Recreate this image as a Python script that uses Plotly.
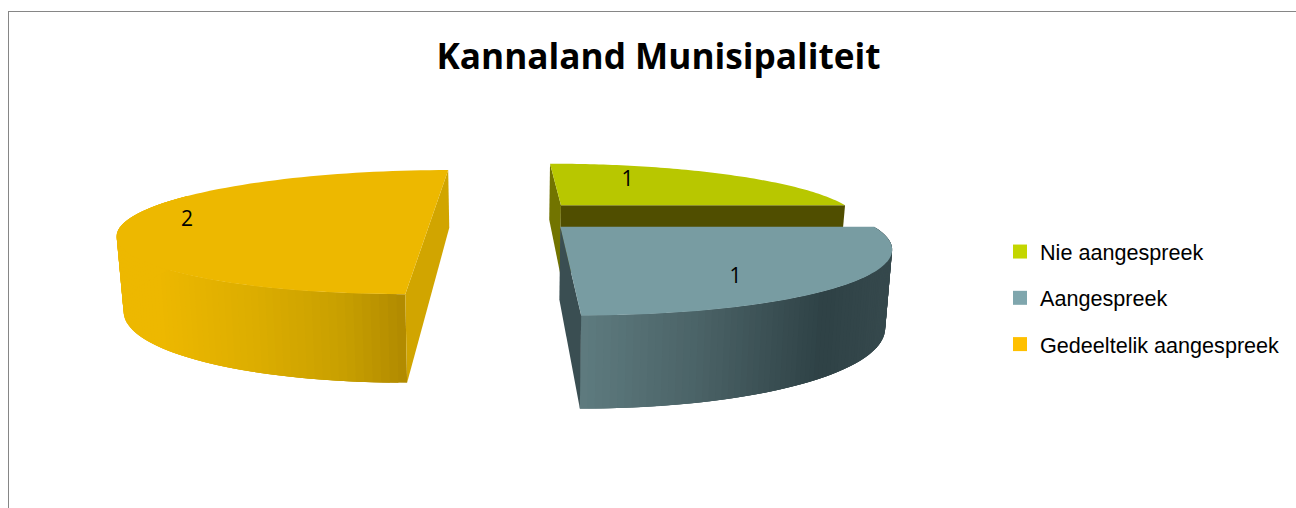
import math
import plotly.graph_objects as go

# ---- data ----
categories = ["Nie aangespreek", "Aangespreek", "Gedeeltelik aangespreek"]
values = [1, 1, 2]
title_text = "Kannaland Munisipaliteit"

# ---- styles ----
legend_colors = ["#c4d600", "#7fa6ad", "#ffc000"]
top_colors = ["#b8c700", "#789ca2", "#edb800"]
label_xy = [(627.5, 181), (735.5, 278), (187, 221)]
# how far each slice is pulled out, sideways and in depth
pull_x = [0.19, 0.17, 0.25]
pull_y = [0.185, 0.185, 0.0]

# projection of the pie plane to picture pixels
X0, CX, CY, K = 507.0, 1115.0, 806.0, 3.74
D_A, D_B = 333.0, 1.02
SHRINK = 0.982


def top(X, Y):
    w = Y + K
    return X0 + CX * X / w, CY / w


def bottom(X, Y):
    x, y = top(X, Y)
    return X0 + (x - X0) * SHRINK, y + D_A / (Y + K + D_B)


def hexrgb(c):
    return tuple(int(c[i:i + 2], 16) for i in (1, 3, 5))


def ramp(stops, x):
    if x <= stops[0][0]:
        return stops[0][1]
    for (a, ca), (b, cb) in zip(stops, stops[1:]):
        if x <= b:
            t = (x - a) / (b - a)
            A, B = hexrgb(ca), hexrgb(cb)
            return "rgb(%d,%d,%d)" % tuple(A[i] + (B[i] - A[i]) * t for i in range(3))
    return stops[-1][1]


fig = go.Figure()


def poly(pts, color):
    xs = [p[0] for p in pts] + [pts[0][0]]
    ys = [p[1] for p in pts] + [pts[0][1]]
    fig.add_trace(go.Scatter(x=xs, y=ys, mode="none", fill="toself", fillcolor=color,
                             showlegend=False, hoverinfo="skip"))


# angles from the values
total = sum(values)
spans = []
a = 0.0
for v in values:
    spans.append((a, a + 2 * math.pi * v / total))
    a += 2 * math.pi * v / total

wall_ramps = [
    None,
    [(580, "#5f7c80"), (700, "#4b6367"), (825, "#2f4246"), (890, "#36494d")],
    [(160, "#edb800"), (250, "#ddae00"), (340, "#c9a000"), (408, "#b08900")],
]
# cut faces: (which end of the slice, colour)
cut_faces = [
    [(0, "#727400"), (1, "#504e00")],
    [(1, "#3a4e52")],
    [],
]
wall_visible = [None, (0, 1), (0, 0.62)]

for i, (a0, a1) in enumerate(spans):
    mid = (a0 + a1) / 2
    ox = pull_x[i] * (1 if math.sin(mid) > 0 else -1)
    oy = pull_y[i] * (1 if math.cos(mid) > 0 else -1)

    def rim(t):
        return ox + math.sin(t), oy + math.cos(t)

    # outer wall: each strip runs on under the next one so no seams show
    if wall_visible[i]:
        f0, f1 = wall_visible[i]
        n = 90
        ts = [a0 + (a1 - a0) * (f0 + (f1 - f0) * j / n) for j in range(n + 1)]
        for j in range(n):
            t0, t1 = ts[j], ts[min(j + 3, n)]
            p0, p1 = rim(t0), rim(t1)
            pm = rim(ts[j + 1])
            col = ramp(wall_ramps[i], (top(*p0)[0] + top(*pm)[0]) / 2)
            poly([top(*p0), top(*p1), bottom(*p1), bottom(*p0)], col)
    # cut faces
    for end, col in cut_faces[i]:
        e = rim(a0 if end == 0 else a1)
        c = (ox, oy)
        poly([top(*c), top(*e), bottom(*e), bottom(*c)], col)
    if abs((a1 - a0) - math.pi) < 1e-9:
        # a half pie has one flat cut face
        e0, e1 = rim(a0), rim(a1)
        poly([top(*e0), top(*e1), bottom(*e1), bottom(*e0)], "#d1a500")
    # top face
    pts = [top(ox, oy)]
    m = 80
    for j in range(m + 1):
        pts.append(top(*rim(a0 + (a1 - a0) * j / m)))
    poly(pts, top_colors[i])

# value labels
fig.add_trace(go.Scatter(x=[p[0] for p in label_xy], y=[p[1] for p in label_xy], mode="text",
                         text=[str(v) for v in values], textposition="middle center",
                         textfont=dict(family="Open Sans", size=21, color="#000000"),
                         showlegend=False, hoverinfo="skip"))

# legend entries
for name, col in zip(categories, legend_colors):
    fig.add_trace(go.Scatter(x=[None], y=[None], mode="markers", name=name, legendgroup=name,
                             marker=dict(symbol="square", size=14, color=col)))

fig.update_layout(
    width=1296, height=508, margin=dict(l=0, r=0, t=0, b=0, autoexpand=False),
    paper_bgcolor="white", plot_bgcolor="white",
    xaxis=dict(range=[0, 1296], visible=False, fixedrange=True),
    yaxis=dict(range=[508, 0], visible=False, fixedrange=True),
    title=dict(text=title_text, x=658.5 / 1296, xanchor="center", xref="paper",
               y=1 - 57 / 508, yanchor="middle", yref="container",
               font=dict(family="Open Sans", size=35.2, color="#000000", weight=700)),
    legend=dict(x=1006 / 1296, xanchor="left", y=1 - 231 / 508, yanchor="top",
                font=dict(family="Liberation Sans", size=21.6, color="#000000"),
                tracegroupgap=15.2, bgcolor="rgba(0,0,0,0)", itemwidth=30, indentation=-6),
    shapes=[
        dict(type="line", xref="x", yref="y", x0=8, x1=1296, y0=11.5, y1=11.5, line=dict(color="#868686", width=1)),
        dict(type="line", xref="x", yref="y", x0=8.5, x1=8.5, y0=11, y1=508, line=dict(color="#868686", width=1)),
    ],
)

fig.write_html("out.html", post_script="document.body.style.margin='0';", config=dict(displayModeBar=False))
